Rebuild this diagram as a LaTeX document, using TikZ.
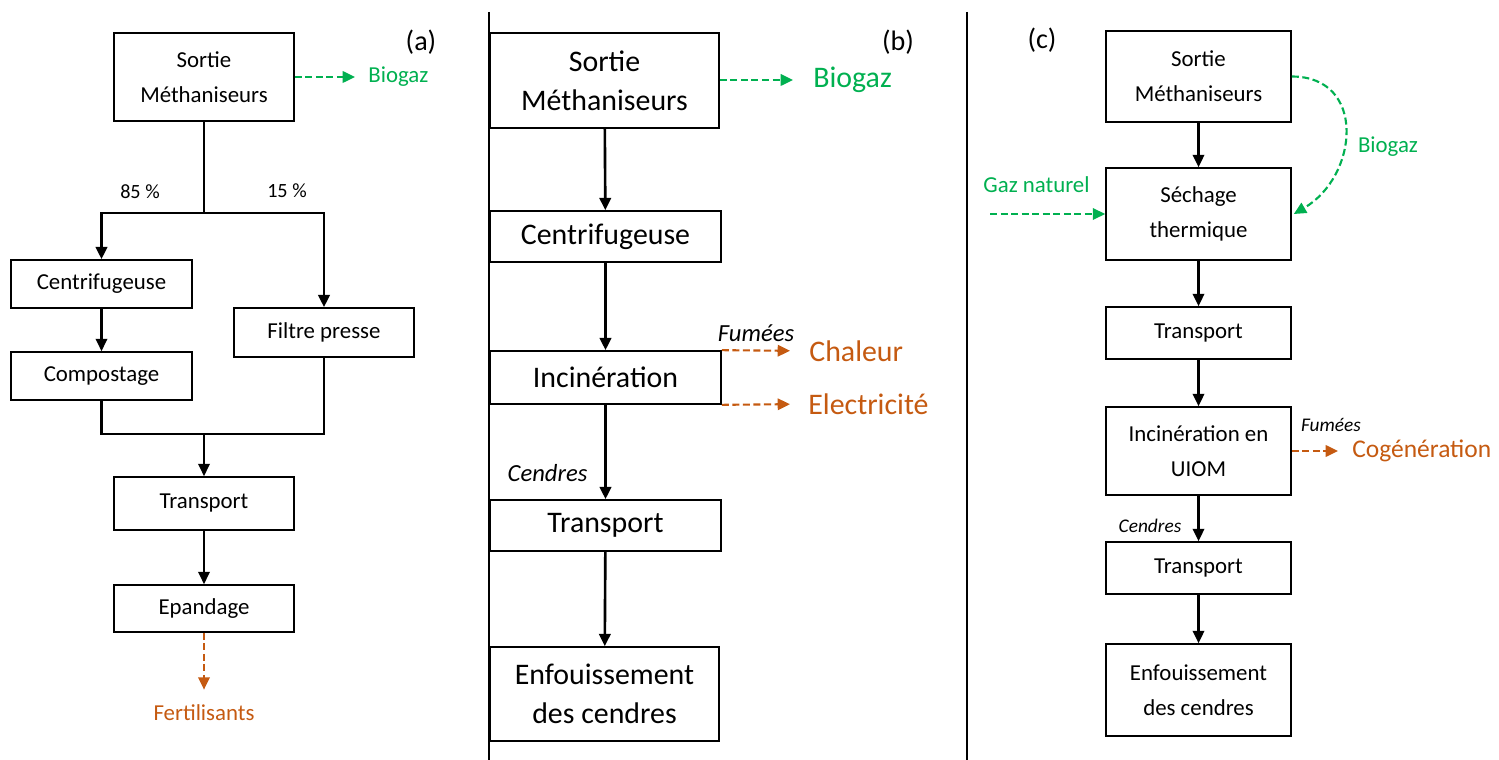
\documentclass[tikz,border=0pt]{standalone}
\usepackage{fontspec}
\setmainfont{Carlito}
\usetikzlibrary{arrows.meta}
\definecolor{gasgreen}{HTML}{00B050}
\definecolor{heatorange}{HTML}{C55A11}

\tikzset{
  boxa/.style={draw, line width=0.95pt, align=center, inner sep=0pt,
    font=\fontsize{13}{20}\selectfont},
  boxb/.style={boxa, font=\fontsize{17}{22}\selectfont},
  flow/.style={line width=1.3pt, -{Triangle[length=7pt,width=6.5pt]}},
  gasflow/.style={flow, line width=1.2pt, gasgreen, dash pattern=on 4pt off 2pt},
  heatflow/.style={flow, line width=1.2pt, heatorange, dash pattern=on 4pt off 2pt},
  lbl/.style={inner sep=0pt},
}

\begin{document}
\begin{tikzpicture}[x=0.02cm,y=-0.02cm]
  \useasboundingbox (0,0) rectangle (1499,760);

  % (a)
  \node[lbl, font=\fontsize{16}{18}\selectfont] (aTag) at (421,42) {(a)};
  \node[boxa, minimum width=3.6cm, minimum height=1.76cm] (aSortie) at (204,77) {Sortie\\Méthaniseurs};
  \node[boxa, minimum width=3.62cm, minimum height=0.96cm] (aCentri) at (101.5,284) {Centrifugeuse};
  \node[boxa, minimum width=3.62cm, minimum height=0.96cm] (aCompost) at (101.5,376) {Compostage};
  \node[boxa, minimum width=3.6cm, minimum height=0.98cm] (aFiltre) at (324,332.5) {Filtre presse};
  \node[boxa, minimum width=3.6cm, minimum height=1.06cm] (aTransport) at (204,503.5) {Transport};
  \node[boxa, minimum width=3.6cm, minimum height=0.94cm] (aEpand) at (204,608.5) {Epandage};
  \node[lbl, anchor=west, gasgreen, font=\fontsize{13}{15}\selectfont] (aBio) at (368,77) {Biogaz};
  \node[lbl, heatorange, font=\fontsize{13}{15}\selectfont] (aFert) at (204,713) {Fertilisants};
  \node[lbl, font=\fontsize{11.5}{13}\selectfont] (aPct85) at (140,192) {85 \%};
  \node[lbl, font=\fontsize{11.5}{13}\selectfont] (aPct15) at (287,191) {15 \%};
  \coordinate (aSplit) at (204,213);
  \coordinate (aJoin) at (204,434);
  \draw[line width=1.6pt] (aSortie.south) -- (aSplit);
  \draw[flow, line width=1.6pt] (aSplit) -| (aCentri.north);
  \draw[flow, line width=1.6pt] (aSplit) -| (aFiltre.north);
  \draw[flow] (aCentri) -- (aCompost);
  \draw[line width=1.6pt] (aCompost.south) |- (aJoin) -| (aFiltre.south);
  \draw[flow] (aJoin) -- (aTransport.north);
  \draw[flow] (aTransport) -- (aEpand);
  \draw[gasflow, shorten >=0.26cm] (aSortie.east) -- (aBio.west);
  \draw[heatflow, shorten >=0.3cm] (aEpand.south) -- (aFert.north);

  \draw[line width=1.1pt] (489,12) -- (489,760);

  % (b)
  \node[lbl, font=\fontsize{16}{18}\selectfont] (bTag) at (898,42) {(b)};
  \node[boxb, minimum width=4.58cm, minimum height=1.9cm] (bSortie) at (604.5,80.5) {Sortie\\Méthaniseurs};
  \node[boxb, minimum width=4.62cm, minimum height=1.02cm] (bCentri) at (605.5,236.5) {Centrifugeuse};
  \node[boxb, minimum width=4.62cm, minimum height=1.06cm] (bIncin) at (605.5,377.5) {Incinération};
  \node[boxb, minimum width=4.62cm, minimum height=1.02cm] (bTransport) at (605.5,525.5) {Transport};
  \node[boxb, minimum width=4.58cm, minimum height=1.88cm] (bEnfouis) at (604.5,694) {Enfouissement\\des cendres};
  \node[lbl, anchor=west, gasgreen, font=\fontsize{17}{19}\selectfont] (bBio) at (813,80) {Biogaz};
  \node[lbl, anchor=west, heatorange, font=\fontsize{17}{19}\selectfont] (bChal) at (809,351) {Chaleur};
  \node[lbl, anchor=west, heatorange, font=\fontsize{17}{19}\selectfont] (bElec) at (808,404) {Electricité};
  \node[lbl, font=\fontsize{14}{16}\selectfont\itshape] (bFum) at (756,333) {Fumées};
  \node[lbl, font=\fontsize{14}{16}\selectfont\itshape] (bCend) at (547.5,473) {Cendres};
  \draw[flow, line width=1.5pt] (bSortie) -- (bCentri);
  \draw[flow, line width=1.5pt] (bCentri) -- (bIncin);
  \draw[flow, line width=1.5pt] (bIncin) -- (bTransport);
  \draw[flow, line width=1.5pt] (bTransport) -- (bEnfouis);
  \draw[gasflow, shorten >=0.4cm] (bSortie.east |- bBio) -- (bBio.west);
  \draw[heatflow, shorten >=0.38cm] (bIncin.north east) -- (bChal.west);
  \draw[heatflow, shorten >=0.36cm] (bIncin.south east) -- (bElec.west);

  \draw[line width=1.1pt] (967,12) -- (967,760);

  % (c)
  \node[lbl, font=\fontsize{16}{18}\selectfont] (cTag) at (1042,40) {(c)};
  \node[boxa, minimum width=3.7cm, minimum height=1.82cm] (cSortie) at (1198.5,76.5) {Sortie\\Méthaniseurs};
  \node[boxa, minimum width=3.7cm, minimum height=1.84cm] (cSech) at (1198.5,214) {Séchage\\thermique};
  \node[boxa, minimum width=3.7cm, minimum height=1.04cm] (cTransA) at (1198.5,333) {Transport};
  \node[boxa, minimum width=3.7cm, minimum height=1.76cm] (cIncin) at (1198.5,451) {Incinération en\\UIOM};
  \node[boxa, minimum width=3.7cm, minimum height=1.04cm] (cTransB) at (1198.5,568) {Transport};
  \node[boxa, minimum width=3.7cm, minimum height=1.84cm] (cEnfouis) at (1198.5,690) {Enfouissement\\des cendres};
  \node[lbl, gasgreen, font=\fontsize{13}{15}\selectfont] (cGaz) at (1036.5,185) {Gaz naturel};
  \node[lbl, gasgreen, font=\fontsize{13}{15}\selectfont] (cBio) at (1388,147) {Biogaz};
  \node[lbl, anchor=west, heatorange, font=\fontsize{14.5}{16}\selectfont] (cCog) at (1352,451) {Cogénération};
  \node[lbl, font=\fontsize{11}{13}\selectfont\itshape] (cFum) at (1331,425) {Fumées};
  \node[lbl, font=\fontsize{11}{13}\selectfont\itshape] (cCend) at (1150,526) {Cendres};
  \coordinate (cGazStart) at (990,214);
  \draw[flow] (cSortie) -- (cSech);
  \draw[flow] (cSech) -- (cTransA);
  \draw[flow] (cTransA) -- (cIncin);
  \draw[flow] (cIncin) -- (cTransB);
  \draw[flow] (cTransB) -- (cEnfouis);
  \draw[gasflow] (cGazStart) -- (cSech.west);
  \draw[gasflow] (cSortie.east) .. controls +(75,0) and +(65,-38) .. ([xshift=0.04cm]cSech.east);
  \draw[heatflow, shorten >=0.28cm] (cIncin.east) -- (cCog.west);
\end{tikzpicture}
\end{document}
